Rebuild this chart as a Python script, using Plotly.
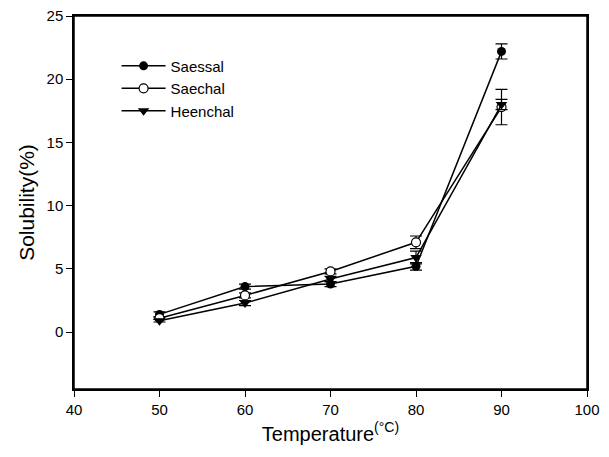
import plotly.graph_objects as go

temps = [50, 60, 70, 80, 90]
saessal = [1.4, 3.6, 3.8, 5.2, 22.2]
saessal_err = [0.2, 0.2, 0.2, 0.3, 0.6]
saechal = [1.1, 2.9, 4.8, 7.1, 17.8]
saechal_err = [0.1, 0.2, 0.2, 0.5, 1.4]
heenchal = [0.9, 2.3, 4.2, 5.9, 18.0]
heenchal_err = [0.1, 0.2, 0.2, 0.5, 0.4]

series = [
    ("Saessal", saessal, saessal_err, dict(symbol="circle", size=9, color="black")),
    ("Saechal", saechal, saechal_err, dict(symbol="circle", size=9, color="white", line=dict(color="black", width=1.2))),
    ("Heenchal", heenchal, heenchal_err, dict(symbol="triangle-down", size=10, color="black")),
]

fig = go.Figure()
for name, vals, err, marker in series:
    fig.add_trace(go.Scatter(
        x=temps, y=vals, name=name, mode="lines+markers",
        line=dict(color="black", width=1.5),
        marker=marker,
        error_y=dict(type="data", array=err, visible=True, color="black", thickness=1.2, width=6),
    ))

axis_common = dict(
    showline=True, linecolor="black", linewidth=1.5, mirror=True, automargin=False,
    ticks="outside", ticklen=6, tickcolor="black", tickwidth=1.2,
    showgrid=False, zeroline=False,
    ticklabeloverflow="allow",
    tickfont=dict(family="Liberation Sans, Arial", size=15, color="black"),
)

fig.update_layout(
    width=601, height=449,
    margin=dict(l=66, r=22, t=8, b=68),
    paper_bgcolor="white", plot_bgcolor="white",
    font=dict(family="Liberation Sans, Arial", color="black"),
    xaxis=dict(range=[40, 100], tickvals=[40, 50, 60, 70, 80, 90, 100],
               title=dict(text="Temperature<sup>(°C)</sup>",
                          font=dict(size=20), standoff=10),
               **axis_common),
    yaxis=dict(range=[-4.5, 25], tickvals=[0, 5, 10, 15, 20, 25],
               title=dict(text="Solubility(%)", font=dict(size=21), standoff=6),
               **axis_common),
    legend=dict(x=0.083, y=0.91, xanchor="left", yanchor="top", itemwidth=44,
                font=dict(size=15, color="black"), bgcolor="rgba(0,0,0,0)",
                tracegroupgap=0),
    shapes=[dict(type="rect", xref="paper", yref="paper", x0=0, y0=0, x1=1, y1=1,
                 line=dict(color="black", width=1.5), layer="above")],
)

fig.write_html("out.html")
